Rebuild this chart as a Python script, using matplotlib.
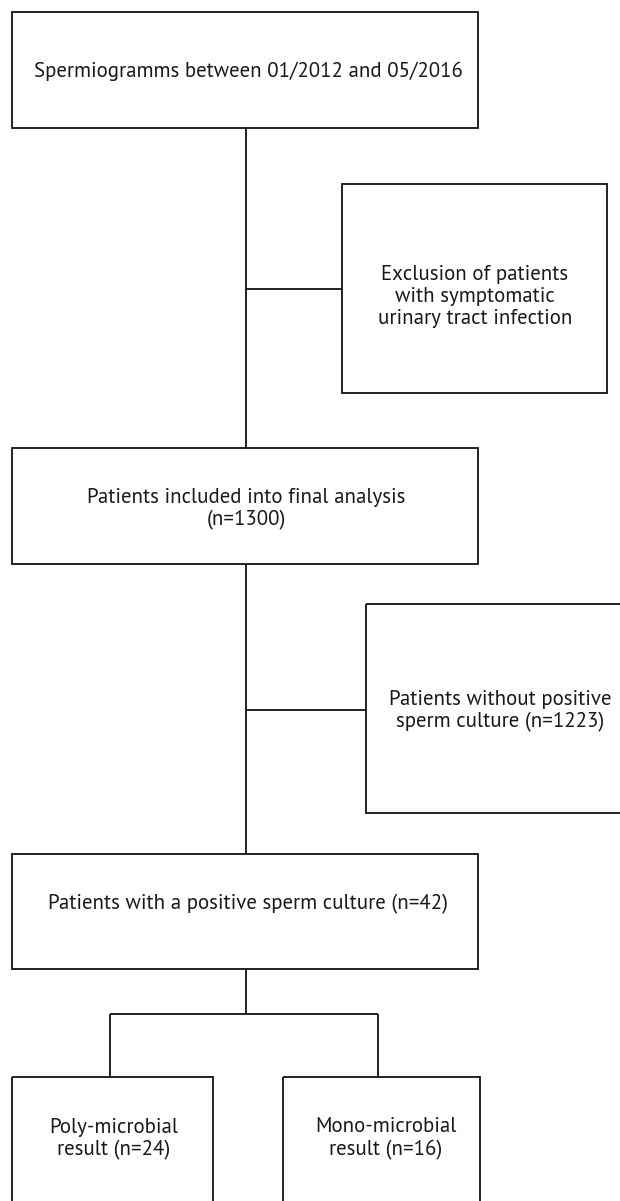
import matplotlib
matplotlib.use("Agg")
import matplotlib.pyplot as plt
from matplotlib.patches import Rectangle

W, H = 620, 1201

labels = [
    "Spermiogramms between 01/2012 and 05/2016",
    "Exclusion of patients\nwith symptomatic\nurinary tract infection",
    "Patients included into final analysis\n(n=1300)",
    "Patients without positive\nsperm culture (n=1223)",
    "Patients with a positive sperm culture (n=42)",
    "Poly-microbial\nresult (n=24)",
    "Mono-microbial\nresult (n=16)",
]

# layout: (x0, y0, x1, y1) in pixel coordinates
boxes = [
    (12, 12, 478, 128),
    (342, 184, 607, 393),
    (12, 448, 478, 564),
    (366, 604, 640, 813),
    (12, 854, 478, 969),
    (12, 1077, 213, 1230),
    (283, 1077, 480, 1230),
]
# text anchor: x centre, last-line baseline
text_pos = [
    (248, 77),
    (475, 324),
    (246, 525),
    (500, 727),
    (248, 909),
    (114, 1155),
    (386, 1155),
]

lines = [
    ((246, 246), (128, 448)),
    ((246, 342), (289, 289)),
    ((246, 246), (564, 854)),
    ((246, 366), (710, 710)),
    ((246, 246), (969, 1014)),
    ((110, 378), (1014, 1014)),
    ((110, 110), (1014, 1077)),
    ((378, 378), (1014, 1077)),
]

fig = plt.figure(figsize=(W / 100, H / 100), dpi=100)
ax = fig.add_axes([0, 0, 1, 1])
ax.set_xlim(0, W)
ax.set_ylim(H, 0)
ax.axis("off")

lw = 1.3
for (x0, y0, x1, y1) in boxes:
    ax.add_patch(Rectangle((x0, y0), x1 - x0, y1 - y0, fill=False,
                           edgecolor="#111111", linewidth=lw))
for xs, ys in lines:
    ax.plot(xs, ys, color="#111111", linewidth=lw, solid_capstyle="butt")

for lab, (tx, ty) in zip(labels, text_pos):
    ax.text(tx, ty, lab, ha="center", va="baseline", fontsize=15.0,
            family="PT Sans", color="#1a1a1a", linespacing=1.2,
            multialignment="center")

fig.savefig("out.png", dpi=100)
